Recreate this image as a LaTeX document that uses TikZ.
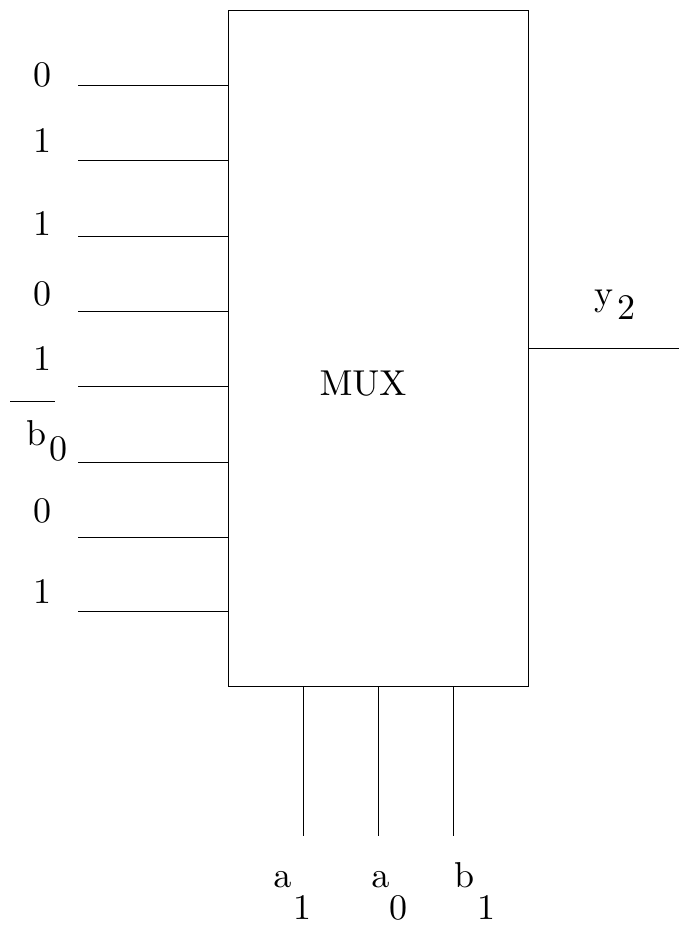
\documentclass[tikz,border=0pt]{standalone}
\font\bigrm=cmr10 at 36pt
\begin{document}
\begin{tikzpicture}[x=1pt,y=-1pt,
  wire/.style={line width=0.8pt},
  lbl/.style={inner sep=0pt,anchor=base,font=\bigrm},
  lblw/.style={inner sep=0pt,anchor=base west,font=\bigrm}]
\useasboundingbox (0,0) rectangle (684,928);
\node[draw,line width=0.8pt,minimum width=300pt,minimum height=676pt,inner sep=0pt] (mux) at (378,348) {};
\node[lbl] (muxt) at (363,395) {MUX};
% inputs
\foreach \i/\y in {1/85,2/160,3/236,4/311,5/386,6/462,7/537,8/611}{
  \coordinate (in\i) at (78,\y);
  \coordinate (p\i) at (228,\y);
  \draw[wire] (in\i) -- (p\i);
}
\node[lbl] (l1) at (42,87) {0};
\node[lbl] (l2) at (42,153) {1};
\node[lbl] (l3) at (42,235) {1};
\node[lbl] (l4) at (42,305) {0};
\node[lbl] (l5) at (42,370) {1};
\node[lblw] (l6) at (26,445) {b\hspace{3pt}\raisebox{-15pt}{0}};
\coordinate (ob1) at (10,401);
\coordinate (ob2) at (55,401);
\draw[wire] (ob1) -- (ob2);
\node[lbl] (l7) at (42,522) {0};
\node[lbl] (l8) at (42,603) {1};
% output
\coordinate (o1) at (528,348);
\coordinate (o2) at (679,348);
\draw[wire] (o1) -- (o2);
\node[lblw] (ly) at (594,305) {y\hspace{4pt}\raisebox{-14pt}{2}};
% selects
\foreach \i/\x in {1/303,2/378,3/453}{
  \coordinate (s\i) at (\x,686);
  \coordinate (e\i) at (\x,836);
  \draw[wire] (s\i) -- (e\i);
}
\node[lblw] (la1) at (273,887) {a\hspace{2pt}\raisebox{-32pt}{1}};
\node[lblw] (la0) at (371,887) {a\raisebox{-32pt}{0}};
\node[lblw] (lb1) at (454,887) {b\hspace{3pt}\raisebox{-32pt}{1}};
\end{tikzpicture}
\end{document}
